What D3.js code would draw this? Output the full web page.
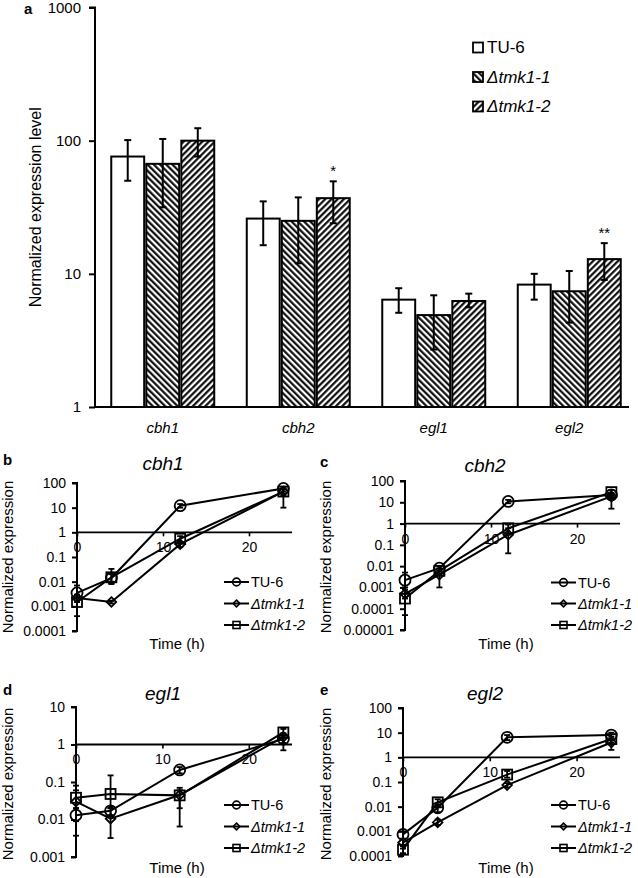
<!DOCTYPE html>
<html><head><meta charset="utf-8">
<script src="https://cdn.jsdelivr.net/npm/d3@7"></script>
<style>
body{margin:0;background:#fff}
svg{display:block;font-family:"Liberation Sans",Arial,sans-serif}
</style>
</head><body>
<svg id="chart" width="638" height="878"></svg>
<script>
// ---------- data ----------
const genes = ["cbh1", "cbh2", "egl1", "egl2"];
const strains = ["TU-6", "Δtmk1-1", "Δtmk1-2"];
const yTicksA = [1, 10, 100, 1000];

// panel a: bar values and error bar ends
const barTU6 = [76, 26, 6.4, 8.3];
const barTU6Hi = [101, 35, 7.8, 10];
const barTU6Lo = [50, 16.4, 5.1, 6.4];
const barT1 = [67, 25, 4.9, 7.4];
const barT1Hi = [103, 37.5, 6.9, 10.5];
const barT1Lo = [31.6, 12, 2.7, 4.3];
const barT2 = [100, 37, 6.25, 12.9];
const barT2Hi = [124, 49.5, 7.1, 17];
const barT2Lo = [76, 24, 5.6, 9];
const signif = ["", "*", "", "**"];

// time courses
const times = [0, 4, 12, 24];
const xTicks = [0, 10, 20];

const cbh1TU6 = [0.0035, 0.014, 12, 60];
const cbh1TU6Hi = [0.007, 0.02, 14, 70];
const cbh1TU6Lo = [0.0015, 0.01, 10, 45];
const cbh1T1 = [0.0022, 0.0015, 0.33, 45];
const cbh1T1Hi = [0.003, 0.0017, 0.4, 55];
const cbh1T1Lo = [0.0015, 0.0013, 0.25, 30];
const cbh1T2 = [0.0015, 0.015, 0.55, 45];
const cbh1T2Hi = [0.002, 0.033, 0.7, 60];
const cbh1T2Lo = [0.0004, 0.008, 0.4, 10];

const cbh2TU6 = [0.0022, 0.008, 11, 22];
const cbh2TU6Hi = [0.005, 0.01, 13, 28];
const cbh2TU6Lo = [0.001, 0.006, 9, 15];
const cbh2T1 = [0.0005, 0.004, 0.3, 19];
const cbh2T1Hi = [0.0008, 0.006, 0.6, 25];
const cbh2T1Lo = [0.0003, 0.001, 0.04, 5];
const cbh2T2 = [0.0003, 0.006, 0.6, 30];
const cbh2T2Hi = [0.0005, 0.008, 0.9, 38];
const cbh2T2Lo = [0.00005, 0.004, 0.3, 20];

const egl1TU6 = [0.013, 0.017, 0.21, 1.4];
const egl1TU6Hi = [0.02, 0.022, 0.25, 1.7];
const egl1TU6Lo = [0.009, 0.013, 0.17, 1.1];
const egl1T1 = [0.03, 0.0105, 0.045, 1.6];
const egl1T1Hi = [0.08, 0.02, 0.07, 2.0];
const egl1T1Lo = [0.0037, 0.0032, 0.02, 0.7];
const egl1T2 = [0.038, 0.048, 0.044, 2.1];
const egl1T2Hi = [0.06, 0.15, 0.06, 2.6];
const egl1T2Lo = [0.02, 0.02, 0.0065, 1.5];

const egl2TU6 = [0.00075, 0.009, 6.5, 8];
const egl2TU6Hi = [0.001, 0.012, 8, 10];
const egl2TU6Lo = [0.0005, 0.006, 5, 6];
const egl2T1 = [0.00035, 0.0023, 0.075, 4];
const egl2T1Hi = [0.0005, 0.003, 0.09, 5];
const egl2T1Lo = [0.0002, 0.0018, 0.06, 2];
const egl2T2 = [0.00018, 0.015, 0.2, 5.5];
const egl2T2Hi = [0.00025, 0.02, 0.28, 7];
const egl2T2Lo = [0.00013, 0.01, 0.15, 4];

// ---------- drawing ----------
const svg = d3.select("#chart");
const FONT = '"Liberation Sans",Arial,sans-serif';

const defs = svg.append("defs");
function hatch(id, angle) {
  const s = 4.4;
  const p = defs.append("pattern").attr("id", id)
    .attr("patternUnits", "userSpaceOnUse")
    .attr("width", s).attr("height", s)
    .attr("patternTransform", `rotate(${angle})`);
  p.append("rect").attr("width", s).attr("height", s).attr("fill", "#fff");
  p.append("line").attr("x1", 1.2).attr("y1", -1).attr("x2", 1.2).attr("y2", s + 1)
    .attr("stroke", "#000").attr("stroke-width", 2.1);
}
hatch("hBack", -45);
hatch("hFwd", 45);
const fills = ["#fff", "url(#hBack)", "url(#hFwd)"];

// ---- panel a ----
const aLeft = 95, aRight = 637, aTop = 7.5, aBot = 407;
const x0 = d3.scaleBand().domain(genes).range([aLeft, aRight]);
const x1 = d3.scaleBand().domain(strains)
  .range([x0.bandwidth() * 0.12, x0.bandwidth() * 0.88]).paddingInner(0.06);
const yA = d3.scaleLog().domain([1, 1000]).range([aBot, aTop]);

const gA = svg.append("g");
const barSeries = [
  {v: barTU6, hi: barTU6Hi, lo: barTU6Lo},
  {v: barT1, hi: barT1Hi, lo: barT1Lo},
  {v: barT2, hi: barT2Hi, lo: barT2Lo}
];
barSeries.forEach((s, si) => {
  genes.forEach((g, gi) => {
    const bx = x0(g) + x1(strains[si]);
    gA.append("rect")
      .attr("x", bx).attr("y", yA(s.v[gi]))
      .attr("width", x1.bandwidth()).attr("height", aBot - yA(s.v[gi]))
      .attr("fill", fills[si]).attr("stroke", "#000").attr("stroke-width", 2);
    const cx = bx + x1.bandwidth() / 2;
    gA.append("line").attr("x1", cx).attr("x2", cx)
      .attr("y1", yA(s.hi[gi])).attr("y2", yA(s.lo[gi]))
      .attr("stroke", "#000").attr("stroke-width", 2);
    [s.hi[gi], s.lo[gi]].forEach(e => {
      gA.append("line").attr("x1", cx - 3.5).attr("x2", cx + 3.5)
        .attr("y1", yA(e)).attr("y2", yA(e))
        .attr("stroke", "#000").attr("stroke-width", 2);
    });
    if (si === 2 && signif[gi]) {
      gA.append("text").attr("x", cx).attr("y", yA(s.hi[gi]) - 5)
        .attr("text-anchor", "middle").attr("font-size", 15).text(signif[gi]);
    }
  });
});

// axes a
const axA = gA.append("g").attr("transform", `translate(${aLeft},0)`)
  .call(d3.axisLeft(yA).tickValues(yTicksA).tickFormat(d3.format("d")).tickSize(6).tickPadding(8));
axA.select(".domain").attr("stroke-width", 2).attr("d", `M-6,${aTop}H0V${aBot}`);
axA.selectAll(".tick line").attr("stroke-width", 2);
axA.selectAll(".tick text").attr("font-size", 15).attr("font-family", FONT).attr("fill", "#000");
gA.append("line").attr("x1", aLeft).attr("x2", 629).attr("y1", aBot).attr("y2", aBot)
  .attr("stroke", "#000").attr("stroke-width", 2);
genes.forEach(g => {
  gA.append("text").attr("x", x0(g) + x0.bandwidth() / 2).attr("y", 433)
    .attr("text-anchor", "middle").attr("font-size", 15).attr("font-style", "italic").text(g);
});
gA.append("text").attr("transform", `translate(35,${(aTop + aBot) / 2}) rotate(-90)`)
  .attr("dy", "0.35em").attr("text-anchor", "middle").attr("font-size", 16)
  .text("Normalized expression level");
gA.append("text").attr("x", 24).attr("y", 14).attr("font-size", 15).attr("font-weight", "bold").text("a");

// legend a
const legRows = [47.5, 77, 106.5];
strains.forEach((s, i) => {
  gA.append("rect").attr("x", 473).attr("y", legRows[i] - 5).attr("width", 10).attr("height", 10)
    .attr("fill", fills[i]).attr("stroke", "#000").attr("stroke-width", 1.8);
  gA.append("text").attr("x", 487).attr("y", legRows[i]).attr("dy", "0.35em")
    .attr("font-size", 17).attr("font-style", i === 0 ? "normal" : "italic").text(s);
});

// ---- line panels ----
function marker(g, type, x, y, s, sw) {
  if (type === 0) {
    g.append("circle").attr("cx", x).attr("cy", y).attr("r", s * 0.55)
      .attr("fill", "none").attr("stroke", "#000").attr("stroke-width", sw);
  } else if (type === 1) {
    const h = s * 0.48;
    g.append("path").attr("d", `M${x},${y - h}L${x + h},${y}L${x},${y + h}L${x - h},${y}Z`)
      .attr("fill", "none").attr("stroke", "#000").attr("stroke-width", sw);
  } else {
    const h = s * 0.5;
    g.append("rect").attr("x", x - h).attr("y", y - h).attr("width", 2 * h).attr("height", 2 * h)
      .attr("fill", "none").attr("stroke", "#000").attr("stroke-width", sw);
  }
}

function linePanel(cfg) {
  const g = svg.append("g");
  const x = d3.scaleLinear().domain([0, 25]).range([cfg.xl, cfg.xr]);
  const y = d3.scaleLog().domain([cfg.ymin, cfg.ymax]).range([cfg.yb, cfg.yt]);
  const decades = d3.range(Math.round(Math.log10(cfg.ymin)), Math.round(Math.log10(cfg.ymax)) + 1)
    .map(e => Math.pow(10, e));
  const fmt = d => d >= 1 ? d3.format("d")(d) : d.toFixed(-Math.round(Math.log10(d)));

  const ay = g.append("g").attr("transform", `translate(${cfg.xl},0)`)
    .call(d3.axisLeft(y).tickValues(decades).tickFormat(fmt).tickSize(5).tickPadding(6));
  ay.select(".domain").attr("stroke-width", 2).attr("d", `M-5,${cfg.yt}H0V${cfg.yb}H-5`);
  ay.selectAll(".tick line").attr("stroke-width", 2);
  ay.selectAll(".tick text").attr("font-size", 14).attr("font-family", FONT).attr("fill", "#000");

  const ax = g.append("g").attr("transform", `translate(0,${y(1)})`)
    .call(d3.axisBottom(x).tickValues(xTicks).tickSize(4).tickPadding(6));
  ax.select(".domain").attr("stroke-width", 1.8).attr("d", `M${cfg.xl},0H${cfg.xr}`);
  ax.selectAll(".tick line").attr("stroke-width", 1.6);
  ax.selectAll(".tick text").attr("font-size", 14).attr("font-family", FONT).attr("fill", "#000");

  const line = d3.line().x((d, i) => x(times[i])).y(d => y(d));
  cfg.series.forEach((s, si) => {
    g.append("path").attr("d", line(s.v)).attr("fill", "none")
      .attr("stroke", "#000").attr("stroke-width", 2);
  });
  cfg.series.forEach((s, si) => {
    s.v.forEach((v, i) => marker(g, si, x(times[i]), y(v), 10, 1.8));
  });
  cfg.series.forEach((s, si) => {
    s.v.forEach((v, i) => {
      const cx = x(times[i]);
      g.append("line").attr("x1", cx).attr("x2", cx).attr("y1", y(s.hi[i])).attr("y2", y(s.lo[i]))
        .attr("stroke", "#000").attr("stroke-width", 1.8);
      [s.hi[i], s.lo[i]].forEach(e => g.append("line")
        .attr("x1", cx - 3).attr("x2", cx + 3).attr("y1", y(e)).attr("y2", y(e))
        .attr("stroke", "#000").attr("stroke-width", 1.8));
    });
  });

  g.append("text").attr("x", cfg.titleX).attr("y", cfg.titleY).attr("dy", "0.35em")
    .attr("text-anchor", "middle").attr("font-size", 19).attr("font-style", "italic").text(cfg.title);
  g.append("text").attr("x", cfg.letterX).attr("y", cfg.titleY - 3).attr("dy", "0.35em")
    .attr("font-size", 15).attr("font-weight", "bold").text(cfg.letter);
  g.append("text").attr("x", cfg.timeX).attr("y", cfg.timeY).attr("dy", "0.35em")
    .attr("text-anchor", "middle").attr("font-size", 15).text("Time (h)");
  g.append("text").attr("transform", `translate(${cfg.labX},${cfg.labY}) rotate(-90)`)
    .attr("dy", "0.35em").attr("text-anchor", "middle").attr("font-size", 15)
    .text("Normalized expression");

  strains.forEach((s, i) => {
    const ly = cfg.legY[i];
    g.append("line").attr("x1", cfg.legX).attr("x2", cfg.legX + 25).attr("y1", ly).attr("y2", ly)
      .attr("stroke", "#000").attr("stroke-width", 2);
    marker(g, i, cfg.legX + 12.5, ly, 7, 1.6);
    g.append("text").attr("x", cfg.legX + 27).attr("y", ly).attr("dy", "0.35em")
      .attr("font-size", 14.5).attr("font-style", i === 0 ? "normal" : "italic").text(s);
  });
}

linePanel({title: "cbh1", letter: "b", xl: 77, xr: 292, yt: 483, yb: 631, ymin: 1e-4, ymax: 100,
  titleX: 163, titleY: 463, letterX: 3, timeX: 177, timeY: 644, labX: 8, labY: 557,
  legX: 224, legY: [582, 603.5, 625],
  series: [{v: cbh1TU6, hi: cbh1TU6Hi, lo: cbh1TU6Lo}, {v: cbh1T1, hi: cbh1T1Hi, lo: cbh1T1Lo},
           {v: cbh1T2, hi: cbh1T2Hi, lo: cbh1T2Lo}]});
linePanel({title: "cbh2", letter: "c", xl: 405, xr: 620, yt: 481, yb: 630, ymin: 1e-5, ymax: 100,
  titleX: 485, titleY: 465, letterX: 320, timeX: 506, timeY: 644, labX: 326, labY: 557,
  legX: 551, legY: [582.5, 603.5, 625],
  series: [{v: cbh2TU6, hi: cbh2TU6Hi, lo: cbh2TU6Lo}, {v: cbh2T1, hi: cbh2T1Hi, lo: cbh2T1Lo},
           {v: cbh2T2, hi: cbh2T2Hi, lo: cbh2T2Lo}]});
linePanel({title: "egl1", letter: "d", xl: 76, xr: 292, yt: 707, yb: 857, ymin: 1e-3, ymax: 10,
  titleX: 163, titleY: 693, letterX: 3, timeX: 177, timeY: 868, labX: 8, labY: 784,
  legX: 224, legY: [805, 826.5, 848],
  series: [{v: egl1TU6, hi: egl1TU6Hi, lo: egl1TU6Lo}, {v: egl1T1, hi: egl1T1Hi, lo: egl1T1Lo},
           {v: egl1T2, hi: egl1T2Hi, lo: egl1T2Lo}]});
linePanel({title: "egl2", letter: "e", xl: 403, xr: 620, yt: 708, yb: 856, ymin: 1e-4, ymax: 100,
  titleX: 485, titleY: 693, letterX: 320, timeX: 506, timeY: 868, labX: 326, labY: 784,
  legX: 551, legY: [805, 826.5, 848],
  series: [{v: egl2TU6, hi: egl2TU6Hi, lo: egl2TU6Lo}, {v: egl2T1, hi: egl2T1Hi, lo: egl2T1Lo},
           {v: egl2T2, hi: egl2T2Hi, lo: egl2T2Lo}]});
</script>
</body></html>
